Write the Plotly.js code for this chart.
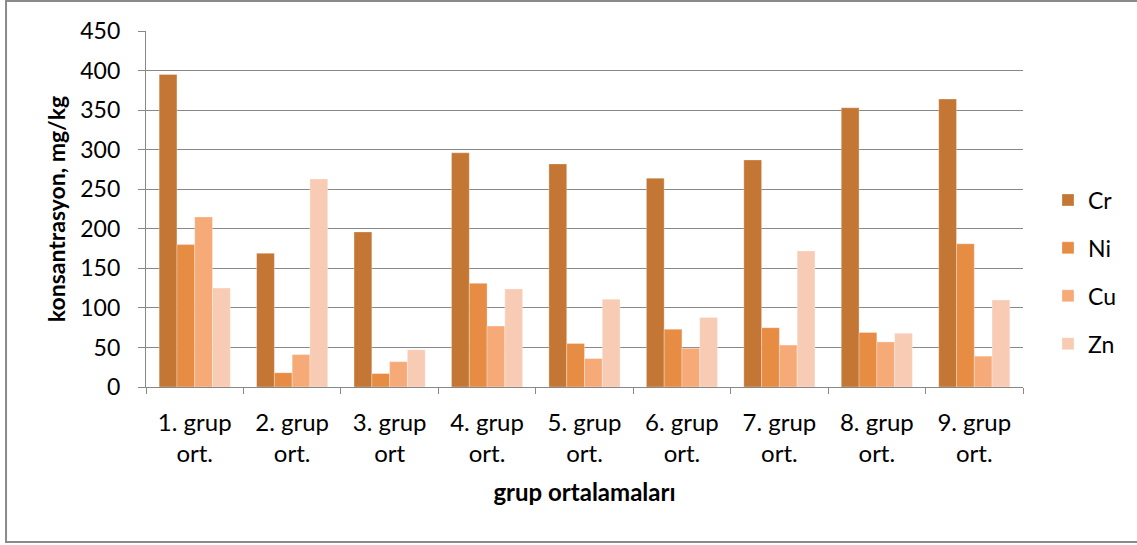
<!DOCTYPE html>
<html>
<head>
<meta charset="utf-8">
<script src="https://cdn.plot.ly/plotly-3.0.1.min.js"></script>
<style>
  html, body { margin: 0; padding: 0; background: #fff; }
  #chart { width: 1137px; height: 545px; }
</style>
</head>
<body>
<div id="chart"></div>
<script>
const categories = ["1. grup<br>ort.", "2. grup<br>ort.", "3. grup<br>ort", "4. grup<br>ort.", "5. grup<br>ort.", "6. grup<br>ort.", "7. grup<br>ort.", "8. grup<br>ort.", "9. grup<br>ort."];
const seriesNames = ["Cr", "Ni", "Cu", "Zn"];
const crValues = [395, 169, 196, 296, 282, 264, 287, 353, 364];
const niValues = [180, 18, 17, 131, 55, 73, 75, 69, 181];
const cuValues = [215, 41, 32, 77, 36, 49, 53, 57, 39];
const znValues = [125, 263, 47, 124, 111, 88, 172, 68, 110];
const colors = ["#C47634", "#E78C43", "#F6AA78", "#F8CBB4"];

const allValues = [crValues, niValues, cuValues, znValues];
const FONT = "Lato, 'Open Sans', sans-serif";

const traces = seriesNames.map((name, i) => ({
  type: "bar",
  name: name,
  x: categories,
  y: allValues[i],
  legendgroup: name,
  marker: { color: colors[i], line: { color: "rgba(255,255,255,0.5)", width: 0.6 } },
  hoverinfo: "x+y+name"
}));

const layout = {
  width: 1137,
  height: 545,
  paper_bgcolor: "#fff",
  plot_bgcolor: "#fff",
  margin: { l: 146, r: 114, t: 31, b: 158 },
  barmode: "group",
  bargap: 0.27,
  bargroupgap: 0,
  font: { family: FONT, size: 23, color: "#000" },
  showlegend: true,
  legend: {
    x: 1.0285, xanchor: "left",
    y: 0.323, yanchor: "middle",
    traceorder: "grouped",
    tracegroupgap: 15,
    font: { family: FONT, size: 23, color: "#000" },
    bgcolor: "rgba(0,0,0,0)"
  },
  xaxis: {
    type: "category",
    showgrid: false,
    showline: true,
    linecolor: "#888",
    linewidth: 1.3,
    ticks: "outside",
    tickson: "boundaries",
    ticklen: 6,
    tickcolor: "#888",
    tickwidth: 1.3,
    tickfont: { family: FONT, size: 24, color: "#000" },
    ticklabelstandoff: 14,
    title: { text: "<b>grup ortalamaları</b>", font: { family: FONT, size: 24, color: "#000" }, standoff: 18 },
    automargin: false
  },
  yaxis: {
    range: [0, 450],
    dtick: 50,
    tick0: 0,
    showgrid: true,
    gridcolor: "#888",
    gridwidth: 1.3,
    zeroline: false,
    showline: true,
    linecolor: "#888",
    linewidth: 1.3,
    ticks: "outside",
    ticklen: 7,
    tickcolor: "#888",
    tickwidth: 1.3,
    tickfont: { family: FONT, size: 23, color: "#000" },
    ticklabelstandoff: 13,
    title: { text: "<b>konsantrasyon, mg/kg</b>", font: { family: FONT, size: 23, color: "#000" }, standoff: 8 },
    automargin: false
  },
  shapes: [{
    type: "rect", xref: "paper", yref: "paper",
    x0: -0.1596, x1: 1.1334, y0: -0.4354, y1: 1.0843,
    line: { color: "#8a8a8a", width: 2 },
    fillcolor: "rgba(0,0,0,0)",
    layer: "below"
  }]
};

Plotly.newPlot("chart", traces, layout, { displayModeBar: false, staticPlot: false });
</script>
</body>
</html>
